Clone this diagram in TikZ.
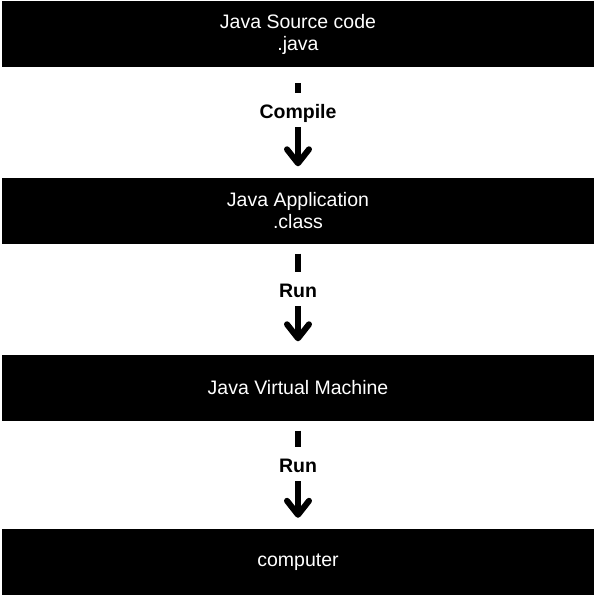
\documentclass[tikz,border=0pt]{standalone}
\usepackage{fontspec}
\setmainfont{Liberation Sans}
\usetikzlibrary{arrows.meta, positioning}

\begin{document}
\begin{tikzpicture}[x=1pt, y=1pt,
  stage/.style={fill=black, text=white, minimum width=592pt,
                minimum height=66pt, inner sep=0pt, align=center,
                font=\fontsize{19.5}{22}\selectfont},
  steplabel/.style={font=\fontsize{19.5}{22}\selectfont\bfseries,
                    text height=20pt, text depth=4pt, inner xsep=4pt,
                    inner ysep=5pt, anchor=base},
  flowline/.style={line width=6pt},
  flowarrow/.style={line width=6pt,
                    -{Straight Barb[length=14pt, width=22pt, round]}}]
  \useasboundingbox (-298,0) rectangle (298,-598);
  % Stages
  \node[stage] (source)   at (0,-34)    {Java Source code\\.java};
  \node[stage] (app)      at (0,-210.5) {Java Application\\.class};
  \node[stage] (jvm)      at (0,-387.5) {Java Virtual Machine};
  \node[stage] (computer) at (0,-562)   {computer};
  % Step labels
  \node[steplabel] (compile) at (0,-118) {Compile};
  \node[steplabel] (run)     at (0,-297) {Run};
  \node[steplabel] (runjvm)  at (0,-472) {Run};
  % Connectors
  \draw[flowline]  ([yshift=-16pt]source.south) -- (compile.north);
  \draw[flowarrow] (compile.south) -- ([yshift=11pt]app.north);
  \draw[flowline]  ([yshift=-10pt]app.south) -- (run.north);
  \draw[flowarrow] (run.south) -- ([yshift=13pt]jvm.north);
  \draw[flowline]  ([yshift=-10pt]jvm.south) -- (runjvm.north);
  \draw[flowarrow] (runjvm.south) -- ([yshift=11pt]computer.north);
\end{tikzpicture}
\end{document}
